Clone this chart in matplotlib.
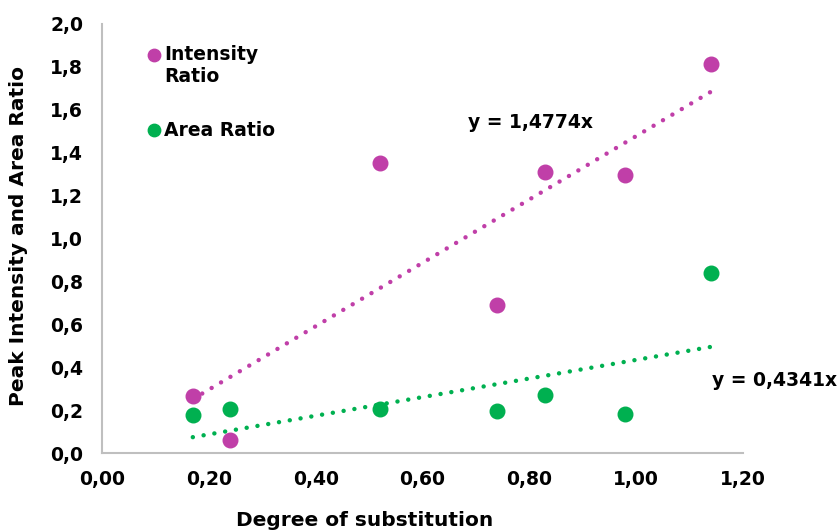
import matplotlib
matplotlib.use('Agg')
import matplotlib.pyplot as plt
import numpy as np

# degree of substitution of the samples
dos = [0.17, 0.24, 0.52, 0.74, 0.83, 0.98, 1.14]
# peak intensity ratio and peak area ratio
intensity_ratio = [0.265, 0.06, 1.35, 0.69, 1.31, 1.295, 1.815]
area_ratio = [0.177, 0.203, 0.203, 0.195, 0.272, 0.182, 0.838]
# slopes of the trendlines (through origin)
slope_intensity = 1.4774
slope_area = 0.4341

purple = '#C03FA8'
green = '#00B050'

plt.rcParams['font.family'] = ['DejaVu Sans']
plt.rcParams['font.weight'] = 'bold'

fig = plt.figure(figsize=(8.4, 5.31), dpi=100)
ax = fig.add_axes([102/840, 1 - 453/531, (743-102)/840, (453-24)/531])

x_fit = np.array([min(dos), max(dos)])
ax.plot(x_fit, slope_intensity * x_fit, color=purple, lw=3.2,
        linestyle=(0, (0.01, 2.45)), dash_capstyle='round')
ax.plot(x_fit, slope_area * x_fit, color=green, lw=3.2,
        linestyle=(0, (0.01, 2.45)), dash_capstyle='round')

ax.scatter(dos, intensity_ratio, s=110, color=purple, zorder=3)
ax.scatter(dos, area_ratio, s=110, color=green, zorder=3)

ax.set_xlim(0, 1.2)
ax.set_ylim(0, 2.0)
ax.set_xticks(np.arange(0, 1.21, 0.2))
ax.set_yticks(np.arange(0, 2.01, 0.2))
ax.set_xticklabels([f'{v:.2f}'.replace('.', ',') for v in np.arange(0, 1.21, 0.2)])
ax.set_yticklabels([f'{v:.1f}'.replace('.', ',') for v in np.arange(0, 2.01, 0.2)])
ax.tick_params(length=0, labelsize=13.5)
ax.tick_params(axis='y', pad=13.5)
ax.tick_params(axis='x', pad=12)
for lab in ax.get_xticklabels() + ax.get_yticklabels():
    lab.set_fontweight('bold')

for side in ['top', 'right']:
    ax.spines[side].set_visible(False)
for side in ['left', 'bottom']:
    ax.spines[side].set_color('#BFBFBF')
    ax.spines[side].set_linewidth(1.5)

# legend keys (drawn by hand to mimic the excel layout)
ft = fig.transFigure
ax.scatter([154/840], [1 - 55/531], s=80, color=purple, transform=ft, clip_on=False)
ax.scatter([154/840], [1 - 130/531], s=80, color=green, transform=ft, clip_on=False)
ax.text(164/840, 1 - 55/531, 'Intensity', transform=ft, ha='left', va='center',
        fontsize=13.5, fontweight='bold')
ax.text(164/840, 1 - 77/531, 'Ratio', transform=ft, ha='left', va='center',
        fontsize=13.5, fontweight='bold')
ax.text(164/840, 1 - 130/531, 'Area Ratio', transform=ft, ha='left', va='center',
        fontsize=13.5, fontweight='bold')

ax.text(531/840, 1 - 122/531, 'y = 1,4774x', transform=ft,
        ha='center', va='center', fontsize=13.5, fontweight='bold')
ax.text(775/840, 1 - 380/531, 'y = 0,4341x', transform=ft,
        ha='center', va='center', fontsize=13.5, fontweight='bold')

fig.text(365/840, 1 - 521/531, 'Degree of substitution', ha='center', va='center',
         fontsize=14.5, fontweight='bold')
fig.text(19/840, 1 - 236/531, 'Peak Intensity and Area Ratio', ha='center', va='center',
         rotation=90, fontsize=14.5, fontweight='bold')

fig.savefig('out.png', dpi=100)
